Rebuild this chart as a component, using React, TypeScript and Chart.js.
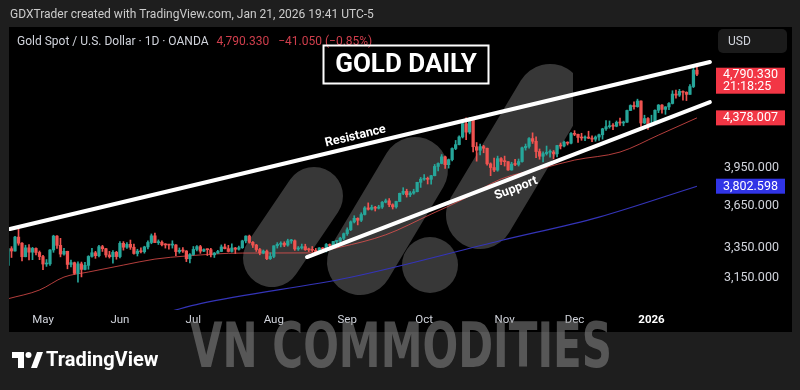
import React, { useEffect, useRef } from 'react';
import { Chart, registerables } from 'chart.js';

Chart.register(...registerables);

// ---------- DATA ----------
// Daily bars, index 0 = 21 Apr 2025; first bar index = START_INDEX
const START_INDEX = -2;

const opens = [
  3229, 3343, 3327, 3424, 3381, 3288, 3349, 3319, 3345, 3317,
  3289, 3239, 3240, 3334, 3431, 3366, 3306, 3325, 3236, 3248,
  3177, 3240, 3203, 3230, 3290, 3315, 3295, 3357, 3343, 3300,
  3288, 3318, 3289, 3380, 3353, 3373, 3353, 3310, 3326, 3322,
  3355, 3386, 3433, 3385, 3388, 3370, 3369, 3368, 3369, 3323,
  3332, 3327, 3274, 3303, 3338, 3357, 3326, 3337, 3336, 3301,
  3313, 3324, 3355, 3343, 3324, 3348, 3339, 3350, 3397, 3431,
  3387, 3368, 3337, 3314, 3326, 3275, 3290, 3363, 3373, 3381,
  3368, 3397, 3398, 3341, 3348, 3357, 3336, 3335, 3332, 3315,
  3348, 3339, 3372, 3365, 3393, 3397, 3416, 3448, 3476, 3533,
  3559, 3545, 3587, 3636, 3626, 3640, 3634, 3643, 3679, 3690,
  3660, 3644, 3685, 3747, 3763, 3736, 3749, 3760, 3833, 3858,
  3865, 3857, 3886, 3961, 3985, 4040, 3975, 4017, 4110, 4143,
  4209, 4326, 4251, 4356, 4125, 4095, 4126, 4112, 3982, 3952,
  3931, 4025, 4002, 4000, 3932, 3980, 3977, 4001, 4116, 4128,
  4195, 4172, 4084, 4045, 4067, 4078, 4080, 4065, 4135, 4131,
  4164, 4155, 4239, 4232, 4205, 4200, 4208, 4198, 4190, 4208,
  4228, 4280, 4299, 4304, 4303, 4338, 4332, 4339, 4445, 4491,
  4480, 4533, 4332, 4372, 4319, 4330, 4447, 4495, 4455, 4478,
  4510, 4598, 4588, 4624, 4615, 4595, 4670, 4831.38,
];

const highs = [
  3357, 3357, 3430, 3500, 3386, 3367, 3371, 3352, 3349, 3327,
  3297, 3269, 3336, 3437, 3435, 3415, 3345, 3326, 3265, 3252,
  3253, 3252, 3250, 3295, 3345, 3325, 3366, 3366, 3345, 3325,
  3330, 3325, 3392, 3392, 3385, 3403, 3375, 3339, 3349, 3360,
  3397, 3446, 3452, 3404, 3398, 3378, 3374, 3398, 3372, 3348,
  3350, 3330, 3309, 3358, 3365, 3366, 3342, 3342, 3346, 3317,
  3331, 3369, 3375, 3366, 3377, 3352, 3361, 3402, 3433, 3438,
  3393, 3373, 3345, 3334, 3334, 3315, 3363, 3385, 3391, 3391,
  3409, 3408, 3404, 3358, 3375, 3374, 3347, 3358, 3345, 3351,
  3351, 3379, 3376, 3393, 3398, 3423, 3453, 3490, 3540, 3578,
  3563, 3600, 3646, 3674, 3657, 3648, 3656, 3685, 3703, 3707,
  3667, 3687, 3749, 3791, 3779, 3761, 3779, 3834, 3872, 3895,
  3875, 3889, 3977, 3990, 4059, 4046, 4022, 4116, 4179, 4218,
  4330, 4379, 4381, 4359, 4161, 4147, 4137, 4114, 3990, 4030,
  4046, 4034, 4046, 4000, 3995, 4019, 4022, 4122, 4148, 4204,
  4245, 4211, 4106, 4082, 4131, 4099, 4093, 4138, 4157, 4174,
  4167, 4247, 4264, 4233, 4241, 4218, 4259, 4218, 4218, 4235,
  4285, 4353, 4350, 4327, 4350, 4375, 4349, 4448, 4497, 4526,
  4550, 4535, 4402, 4381, 4402, 4450, 4500, 4500, 4480, 4518,
  4630, 4635, 4643, 4628, 4620, 4690, 4863, 4888,
];

const lows = [
  3228, 3283, 3326, 3367, 3260, 3287, 3266, 3268, 3300, 3268,
  3202, 3223, 3230, 3318, 3345, 3287, 3299, 3207, 3220, 3171,
  3120, 3154, 3200, 3204, 3285, 3277, 3287, 3324, 3285, 3279,
  3245, 3271, 3280, 3333, 3345, 3338, 3306, 3293, 3314, 3312,
  3341, 3377, 3384, 3372, 3362, 3347, 3340, 3347, 3295, 3312,
  3317, 3255, 3247, 3298, 3328, 3311, 3322, 3296, 3287, 3283,
  3310, 3322, 3341, 3320, 3319, 3310, 3333, 3345, 3383, 3381,
  3351, 3324, 3301, 3308, 3268, 3269, 3281, 3347, 3355, 3357,
  3360, 3380, 3331, 3331, 3340, 3331, 3323, 3323, 3311, 3311,
  3325, 3321, 3352, 3351, 3372, 3383, 3405, 3436, 3470, 3525,
  3511, 3535, 3583, 3620, 3620, 3613, 3628, 3632, 3674, 3645,
  3628, 3634, 3683, 3737, 3718, 3722, 3740, 3758, 3793, 3849,
  3820, 3819, 3884, 3924, 3982, 3945, 3947, 4007, 4100, 4140,
  4200, 4186, 4236, 4082, 4004, 4056, 4074, 3972, 3886, 3918,
  3922, 3975, 3964, 3929, 3930, 3968, 3964, 3995, 4096, 4113,
  4153, 4032, 4020, 3998, 4055, 4038, 4022, 4040, 4106, 4124,
  4140, 4150, 4220, 4161, 4180, 4176, 4195, 4169, 4172, 4180,
  4190, 4265, 4286, 4272, 4298, 4310, 4307, 4338, 4444, 4458,
  4475, 4302, 4325, 4274, 4316, 4323, 4425, 4420, 4410, 4452,
  4505, 4560, 4575, 4540, 4537, 4595, 4660, 4775,
];

const closes = [
  3343, 3327, 3424, 3381, 3288, 3349, 3319, 3345, 3317, 3289,
  3239, 3240, 3334, 3431, 3366, 3306, 3325, 3236, 3248, 3177,
  3240, 3203, 3230, 3290, 3315, 3295, 3357, 3343, 3300, 3288,
  3318, 3289, 3380, 3353, 3373, 3353, 3310, 3326, 3322, 3355,
  3386, 3433, 3385, 3388, 3370, 3369, 3368, 3369, 3323, 3332,
  3327, 3274, 3303, 3338, 3357, 3326, 3337, 3336, 3301, 3313,
  3324, 3355, 3343, 3324, 3348, 3339, 3350, 3397, 3431, 3387,
  3368, 3337, 3314, 3326, 3275, 3290, 3363, 3373, 3381, 3368,
  3397, 3398, 3341, 3348, 3357, 3336, 3335, 3332, 3315, 3348,
  3339, 3372, 3365, 3393, 3397, 3416, 3448, 3476, 3533, 3559,
  3545, 3587, 3636, 3626, 3640, 3634, 3643, 3679, 3690, 3660,
  3644, 3685, 3747, 3763, 3736, 3749, 3760, 3833, 3858, 3865,
  3857, 3886, 3961, 3985, 4040, 3975, 4017, 4110, 4143, 4209,
  4326, 4251, 4356, 4125, 4095, 4126, 4112, 3982, 3952, 3931,
  4025, 4002, 4000, 3932, 3980, 3977, 4001, 4116, 4128, 4195,
  4172, 4084, 4045, 4067, 4078, 4080, 4065, 4135, 4131, 4164,
  4155, 4239, 4232, 4205, 4200, 4208, 4198, 4190, 4208, 4228,
  4280, 4299, 4304, 4303, 4338, 4332, 4339, 4445, 4491, 4480,
  4533, 4332, 4372, 4319, 4330, 4447, 4495, 4455, 4478, 4510,
  4598, 4588, 4624, 4615, 4595, 4670, 4831.38, 4790.33,
];

// time axis
const monthTickIdx = [8, 30, 51, 74, 95, 117, 140, 160, 182];
const monthTickLabels = ['May', 'Jun', 'Jul', 'Aug', 'Sep', 'Oct', 'Nov', 'Dec', '2026'];

// price axis
const priceTicks = [3150, 3350, 3650, 3950];

// moving averages
const ma50Idx = [-2, 7, 14, 21, 31, 40, 49, 65, 84, 93, 106, 119, 128, 139, 151, 160, 173, 184, 195];
const ma50Val = [3015, 3070, 3153, 3186, 3232, 3272, 3293, 3313, 3314, 3354, 3440, 3590, 3700, 3860, 3947, 4013, 4080, 4225, 4378.007];
const ma200Idx = [44, 53, 96, 139, 167, 195];
const ma200Val = [2935, 2985, 3152, 3400, 3568, 3802.598];

// drawn trend lines
const resistanceIdx = [-1.44, 198.7];
const resistanceVal = [3481, 4912];
const supportIdx = [83.5, 198.7];
const supportVal = [3286, 4522];

const symbolTitle = 'Gold Spot / U.S. Dollar · 1D · OANDA';
const headerText = 'GDXTrader created with TradingView.com, Jan 21, 2026 19:41 UTC-5';
const countdown = '21:18:25';

// ---------- STYLE ----------
const UP = '#26a69a';
const DOWN = '#ef5350';
const FONT = 'Roboto, "Noto Sans", sans-serif';

const fmt = (v: number) =>
  v.toLocaleString('en-US', { minimumFractionDigits: 3, maximumFractionDigits: 3 });

function buildConfig(): any {
  const idx = closes.map((_, i) => START_INDEX + i);
  const colors = closes.map((c, i) => (c >= opens[i] ? UP : DOWN));
  const wickData = idx.map((x, i) => ({ x, y: [lows[i], highs[i]] }));
  const bodyData = idx.map((x, i) => ({ x, y: [opens[i], closes[i]] }));
  const pts = (xs: number[], ys: number[]) => xs.map((x, i) => ({ x, y: ys[i] }));

  const last = closes[closes.length - 1];
  const prev = closes[closes.length - 2];
  const chg = last - prev;
  const chgPct = (chg / prev) * 100;

  const decor = {
    id: 'decor',
    beforeDraw(chart: any) {
      const { ctx } = chart;
      ctx.save();
      ctx.fillStyle = '#1e1e1e';
      ctx.fillRect(0, 0, 800, 390);
      ctx.fillStyle = '#000000';
      ctx.fillRect(9, 27, 783, 305);
      ctx.restore();
    },
    beforeDatasetsDraw(chart: any) {
      const { ctx, chartArea } = chart;
      ctx.save();
      ctx.beginPath();
      ctx.rect(chartArea.left, chartArea.top, 573 - chartArea.left, chartArea.bottom - chartArea.top);
      ctx.clip();
      ctx.strokeStyle = 'rgba(92,92,92,0.6)';
      ctx.fillStyle = 'rgba(92,92,92,0.6)';
      ctx.lineCap = 'round';
      const caps = [
        [272, 258, 314, 196, 58],
        [360, 262, 415, 170, 66],
        [480, 215, 550, 98, 68],
      ];
      caps.forEach(([x1, y1, x2, y2, w]) => {
        ctx.beginPath();
        ctx.lineWidth = w;
        ctx.moveTo(x1, y1);
        ctx.lineTo(x2, y2);
        ctx.stroke();
      });
      ctx.beginPath();
      ctx.arc(430, 265, 28, 0, Math.PI * 2);
      ctx.fill();
      ctx.restore();
    },
    afterDraw(chart: any) {
      const { ctx } = chart;
      const xs = chart.scales.x;
      const ys = chart.scales.y;
      ctx.save();
      ctx.textBaseline = 'middle';
      ctx.textAlign = 'left';

      // header
      ctx.fillStyle = '#cccccc';
      ctx.font = `12px ${FONT}`;
      ctx.fillText(headerText, 10, 15);

      // symbol legend
      ctx.fillStyle = '#d1d4dc';
      ctx.font = `12px ${FONT}`;
      ctx.fillText(symbolTitle, 17, 42);
      let lx = 17 + ctx.measureText(symbolTitle).width + 8;
      ctx.fillStyle = '#cf3e4c';
      const priceTxt = fmt(last);
      ctx.fillText(priceTxt, lx, 42);
      lx += ctx.measureText(priceTxt).width + 9;
      const sign = chg < 0 ? '\u2212' : '+';
      ctx.fillText(`${sign}${fmt(Math.abs(chg))} (${sign}${Math.abs(chgPct).toFixed(2)}%)`, lx, 42);

      // GOLD DAILY box
      ctx.strokeStyle = '#ffffff';
      ctx.lineWidth = 2;
      ctx.strokeRect(323.5, 45.5, 165, 38);
      ctx.fillStyle = '#ffffff';
      ctx.font = `bold 26px ${FONT}`;
      ctx.textAlign = 'center';
      ctx.fillText('GOLD DAILY', 406, 65);

      // labels along trend lines
      const onLine = (text: string, xi: number[], yv: number[], t: number, off: number) => {
        const x1 = xs.getPixelForValue(xi[0]);
        const y1 = ys.getPixelForValue(yv[0]);
        const x2 = xs.getPixelForValue(xi[1]);
        const y2 = ys.getPixelForValue(yv[1]);
        const ang = Math.atan2(y2 - y1, x2 - x1);
        ctx.save();
        ctx.translate(x1 + (x2 - x1) * t, y1 + (y2 - y1) * t);
        ctx.rotate(ang);
        ctx.fillStyle = '#ffffff';
        ctx.font = `bold 12.5px ${FONT}`;
        ctx.textAlign = 'center';
        ctx.fillText(text, 0, off);
        ctx.restore();
      };
      onLine('Resistance', resistanceIdx, resistanceVal, 0.497, -10);
      onLine('Support', supportIdx, supportVal, 0.509, 11);

      // USD button
      ctx.fillStyle = '#1b1b1b';
      ctx.beginPath();
      ctx.roundRect(718, 29, 69, 24, 5);
      ctx.fill();
      ctx.fillStyle = '#d1d4dc';
      ctx.font = `12px ${FONT}`;
      ctx.textAlign = 'left';
      ctx.fillText('USD', 728, 41.5);

      // price labels
      ctx.font = `12.5px ${FONT}`;
      const yl = ys.getPixelForValue(last);
      ctx.fillStyle = '#f23645';
      ctx.fillRect(716, yl - 6.5, 69, 26);
      ctx.fillStyle = '#ffffff';
      ctx.fillText(fmt(last), 723, yl + 0.5);
      ctx.fillText(countdown, 723, yl + 12.5);

      const y50 = ys.getPixelForValue(ma50Val[ma50Val.length - 1]);
      ctx.fillStyle = '#f23645';
      ctx.fillRect(716, y50 - 7.5, 69, 15);
      ctx.fillStyle = '#ffffff';
      ctx.fillText(fmt(ma50Val[ma50Val.length - 1]), 723, y50 + 0.5);

      const y200 = ys.getPixelForValue(ma200Val[ma200Val.length - 1]);
      ctx.fillStyle = '#3034e6';
      ctx.fillRect(716, y200 - 7.5, 69, 15);
      ctx.fillStyle = '#ffffff';
      ctx.fillText(fmt(ma200Val[ma200Val.length - 1]), 723, y200 + 0.5);

      // bottom branding
      ctx.fillStyle = '#ffffff';
      ctx.fillRect(12, 352, 12, 6);
      ctx.fillRect(18, 352, 6, 16);
      ctx.beginPath();
      ctx.arc(28.5, 355, 3, 0, Math.PI * 2);
      ctx.fill();
      ctx.beginPath();
      ctx.moveTo(31, 368);
      ctx.lineTo(37, 352);
      ctx.lineTo(43, 352);
      ctx.lineTo(37, 368);
      ctx.closePath();
      ctx.fill();
      ctx.font = `bold 20px ${FONT}`;
      ctx.fillText('TradingView', 46, 361);

      // watermark text
      const wm = 'VN COMMODITIES';
      ctx.font = 'bold 62px "DejaVu Sans Condensed", "DejaVu Sans", sans-serif';
      const w = ctx.measureText(wm).width;
      ctx.translate(401, 367);
      ctx.scale(422 / w, 1);
      ctx.textAlign = 'center';
      ctx.textBaseline = 'alphabetic';
      ctx.fillStyle = 'rgba(135,135,135,0.55)';
      ctx.fillText(wm, 0, 0);
      ctx.restore();
    },
  };

  return {
    type: 'bar',
    data: {
      datasets: [
        {
          type: 'line',
          data: pts(resistanceIdx, resistanceVal),
          borderColor: '#ffffff',
          borderWidth: 4,
          borderCapStyle: 'round',
          pointRadius: 0,
          order: 0,
        },
        {
          type: 'line',
          data: pts(supportIdx, supportVal),
          borderColor: '#ffffff',
          borderWidth: 4,
          borderCapStyle: 'round',
          pointRadius: 0,
          order: 0,
        },
        {
          type: 'bar',
          data: bodyData,
          backgroundColor: colors,
          barThickness: 2.6,
          grouped: false,
          minBarLength: 1,
          borderWidth: 0,
          order: 1,
        },
        {
          type: 'bar',
          data: wickData,
          backgroundColor: colors,
          barThickness: 1,
          grouped: false,
          borderWidth: 0,
          order: 2,
        },
        {
          type: 'line',
          data: pts(ma50Idx, ma50Val),
          borderColor: 'rgba(239,83,80,0.75)',
          borderWidth: 1,
          pointRadius: 0,
          cubicInterpolationMode: 'monotone',
          order: 3,
        },
        {
          type: 'line',
          data: pts(ma200Idx, ma200Val),
          borderColor: '#3434b8',
          borderWidth: 1.2,
          pointRadius: 0,
          cubicInterpolationMode: 'monotone',
          order: 3,
        },
      ],
    },
    options: {
      responsive: false,
      animation: false,
      events: [],
      layout: { padding: { left: 9, right: 8, top: 27, bottom: 58 } },
      plugins: { legend: { display: false }, tooltip: { enabled: false } },
      scales: {
        x: {
          type: 'linear',
          min: -1.72,
          max: 200.45,
          offset: false,
          grid: { display: false, drawTicks: false },
          border: { display: false },
          afterBuildTicks: (s: any) => {
            s.ticks = monthTickIdx.map((v) => ({ value: v }));
          },
          afterFit: (s: any) => {
            s.height = 22;
          },
          ticks: {
            autoSkip: false,
            maxRotation: 0,
            padding: 3,
            color: (c: any) => (c.index === monthTickLabels.length - 1 ? '#ffffff' : '#d1d4dc'),
            font: (c: any) => ({
              family: FONT,
              size: 11.5,
              weight: c.index === monthTickLabels.length - 1 ? 'bold' : 'normal',
            }),
            callback: (_v: any, i: number) => monthTickLabels[i],
          },
        },
        y: {
          type: 'logarithmic',
          position: 'right',
          min: 2946,
          max: 5280,
          grid: { display: false, drawTicks: false },
          border: { display: false },
          afterBuildTicks: (s: any) => {
            s.ticks = priceTicks.map((v) => ({ value: v }));
          },
          afterFit: (s: any) => {
            s.width = 76;
          },
          ticks: {
            padding: 8,
            crossAlign: 'near',
            color: '#d1d4dc',
            font: { family: FONT, size: 12.5 },
            callback: (v: any) => fmt(Number(v)),
          },
        },
      },
    },
    plugins: [decor],
  };
}

export default function App() {
  const ref = useRef<HTMLCanvasElement>(null);
  useEffect(() => {
    document.body.style.margin = '0';
    const chart = new Chart(ref.current as HTMLCanvasElement, buildConfig());
    return () => chart.destroy();
  }, []);
  return (
    <div style={{ position: 'absolute', left: 0, top: 0, width: 800, height: 390, background: '#1e1e1e' }}>
      <canvas ref={ref} width={800} height={390} style={{ display: 'block', width: 800, height: 390 }} />
    </div>
  );
}
